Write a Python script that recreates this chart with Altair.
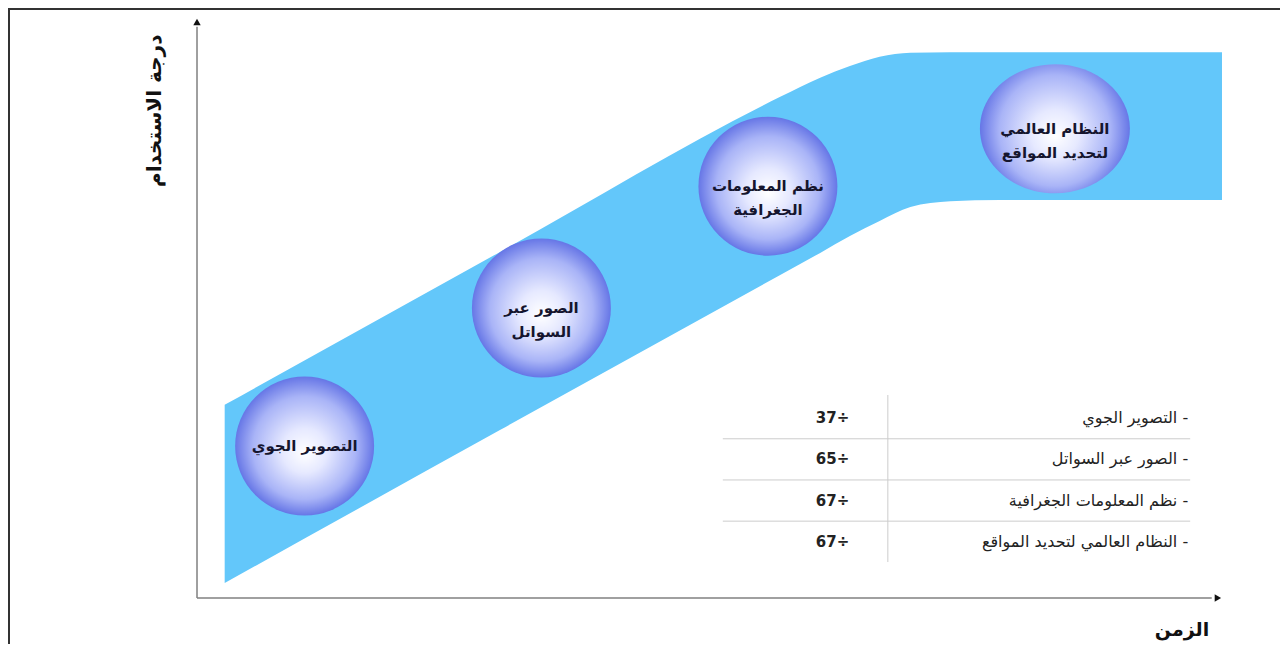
import altair as alt
import pandas as pd

# ---- data (time / usage units, axes origin = 0, arrow tips = 100) ----
band_time = [2.7, 29.6, 56.9, 60.8, 63.7, 66.6, 69.6, 73.5, 78.3, 100.0]
band_upper = [33.3, 59.7, 86.4, 89.7, 91.7, 93.3, 94.0, 94.1, 94.1, 94.1]
band_lower = [2.6, 29.0, 55.7, 59.5, 62.4, 65.0, 67.4, 68.4, 68.6, 68.6]

stage_labels = [
    "التصوير الجوي",
    "الصور عبر\nالسواتل",
    "نظم المعلومات\nالجغرافية",
    "النظام العالمي\nلتحديد المواقع",
]
stage_time = [10.5, 33.6, 55.7, 83.7]
stage_usage = [26.2, 50.0, 71.0, 80.9]

table_labels = [
    "التصوير الجوي -",
    "الصور عبر السواتل -",
    "نظم المعلومات الجغرافية -",
    "النظام العالمي لتحديد المواقع -",
]
table_values = ["37÷", "65÷", "67÷", "67÷"]

y_title = "درجة الاستخدام"
x_title = "الزمن"

# ---- scales ----
xs = alt.Scale(domain=[-18.44, 105.66], nice=False, zero=False)
ys = alt.Scale(domain=[-7.93, 101.72], nice=False, zero=False)


def X(f):
    return alt.X(f, type="quantitative", scale=xs, axis=None)


def Y(f):
    return alt.Y(f, type="quantitative", scale=ys, axis=None)


FONT = "DejaVu Sans"

band_df = pd.DataFrame({"t": band_time, "up": band_upper, "lo": band_lower})
band = alt.Chart(band_df).mark_area(color="#63c7fa", interpolate="monotone").encode(
    x=X("t"), y=Y("up"), y2="lo"
)

stage_df = pd.DataFrame({"t": stage_time, "u": stage_usage, "label": stage_labels})

grad = alt.RadialGradient(
    gradient="radial",
    stops=[
        alt.GradientStop(color="#ffffff", offset=0),
        alt.GradientStop(color="#e6e9ff", offset=0.32),
        alt.GradientStop(color="#a9b4f7", offset=0.74),
        alt.GradientStop(color="#6676e6", offset=1),
    ],
    x1=0.5, y1=0.55, r1=0, x2=0.5, y2=0.5, r2=0.5,
)

circles = alt.Chart(stage_df.iloc[:3]).mark_point(
    shape="circle", filled=True, fill=grad, size=139 * 139, strokeWidth=0, opacity=1
).encode(x=X("t"), y=Y("u"))

ellipse_path = "M-1,0 A1,0.86,0,1,1,1,0 A1,0.86,0,1,1,-1,0 Z"
circle4 = alt.Chart(stage_df.iloc[3:]).mark_point(
    shape=ellipse_path, filled=True, fill=grad, size=150 * 150, strokeWidth=0, opacity=1
).encode(x=X("t"), y=Y("u"))

stage_text = alt.Chart(stage_df).mark_text(
    font=FONT, fontWeight="bold", fontSize=15, lineBreak="\n", lineHeight=24,
    color="#15152e", baseline="middle", align="center",
).encode(x=X("t"), y=Y("u"), text="label")

# ---- table ----
row_top, row_step = 31.0, 7.1
table_df = pd.DataFrame({
    "label": table_labels,
    "value": table_values,
    "u": [row_top - i * row_step for i in range(len(table_labels))],
})
table_df["lx"] = 96.7
table_df["vx"] = 62.0

tlab = alt.Chart(table_df).mark_text(
    font=FONT, fontSize=16, align="right", baseline="middle", color="#222222"
).encode(x=X("lx"), y=Y("u"), text="label")
tval = alt.Chart(table_df).mark_text(
    font=FONT, fontSize=15, fontWeight="bold", align="center", baseline="middle", color="#222222"
).encode(x=X("vx"), y=Y("u"), text="value")

hl_df = pd.DataFrame({
    "u": [row_top - (i + 0.5) * row_step for i in range(len(table_labels) - 1)],
    "x1": 51.3, "x2": 96.9,
})
hlines = alt.Chart(hl_df).mark_rule(color="#cccccc", strokeWidth=1).encode(
    x=X("x1"), x2="x2", y=Y("u")
)
vl_df = pd.DataFrame({"t": [67.4], "u1": [35.0], "u2": [6.2]})
vline = alt.Chart(vl_df).mark_rule(color="#cccccc", strokeWidth=1).encode(
    x=X("t"), y=Y("u1"), y2="u2"
)

# ---- axes with arrows ----
ax_df = pd.DataFrame({"t0": [0.0], "t1": [99.0], "u0": [0.0], "u1": [98.5]})
yaxis = alt.Chart(ax_df).mark_rule(color="#808080", strokeWidth=1.5).encode(
    x=X("t0"), y=Y("u0"), y2="u1"
)
xaxis = alt.Chart(ax_df).mark_rule(color="#808080", strokeWidth=1.5).encode(
    x=X("t0"), x2="t1", y=Y("u0")
)
arr_up = alt.Chart(pd.DataFrame({"t": [0.0], "u": [99.3]})).mark_point(
    shape="triangle-up", filled=True, color="#111111", size=55, opacity=1
).encode(x=X("t"), y=Y("u"))
arr_right = alt.Chart(pd.DataFrame({"t": [99.6], "u": [0.0]})).mark_point(
    shape="triangle-right", filled=True, color="#111111", size=55, opacity=1
).encode(x=X("t"), y=Y("u"))

ytitle = alt.Chart(pd.DataFrame({"t": [-4.1], "u": [84.0], "s": [y_title]})).mark_text(
    font=FONT, fontWeight="bold", fontSize=20, angle=270, align="center", baseline="middle",
    color="#111111",
).encode(x=X("t"), y=Y("u"), text="s")
xtitle = alt.Chart(pd.DataFrame({"t": [96.1], "u": [-5.5], "s": [x_title]})).mark_text(
    font=FONT, fontWeight="bold", fontSize=19, align="center", baseline="middle",
    color="#111111",
).encode(x=X("t"), y=Y("u"), text="s")

# ---- frame (top and left edges) ----
frame_top = alt.Chart(pd.DataFrame({"a": [0]})).mark_rule(color="#333333", strokeWidth=2).encode(
    x=alt.value(0), x2=alt.value(1272), y=alt.value(1)
)
frame_left = alt.Chart(pd.DataFrame({"a": [0]})).mark_rule(color="#333333", strokeWidth=2).encode(
    x=alt.value(1), y=alt.value(0), y2=alt.value(636)
)

chart = alt.layer(
    band, circles, circle4, stage_text, hlines, vline, tlab, tval,
    yaxis, xaxis, arr_up, arr_right, ytitle, xtitle, frame_top, frame_left,
).properties(
    width=1272, height=636, padding=0, autosize=alt.AutoSizeParams(type="none"),
    background="white",
).configure_view(stroke=None)

chart.save("out.html", embed_options={"renderer": "svg", "actions": False})
